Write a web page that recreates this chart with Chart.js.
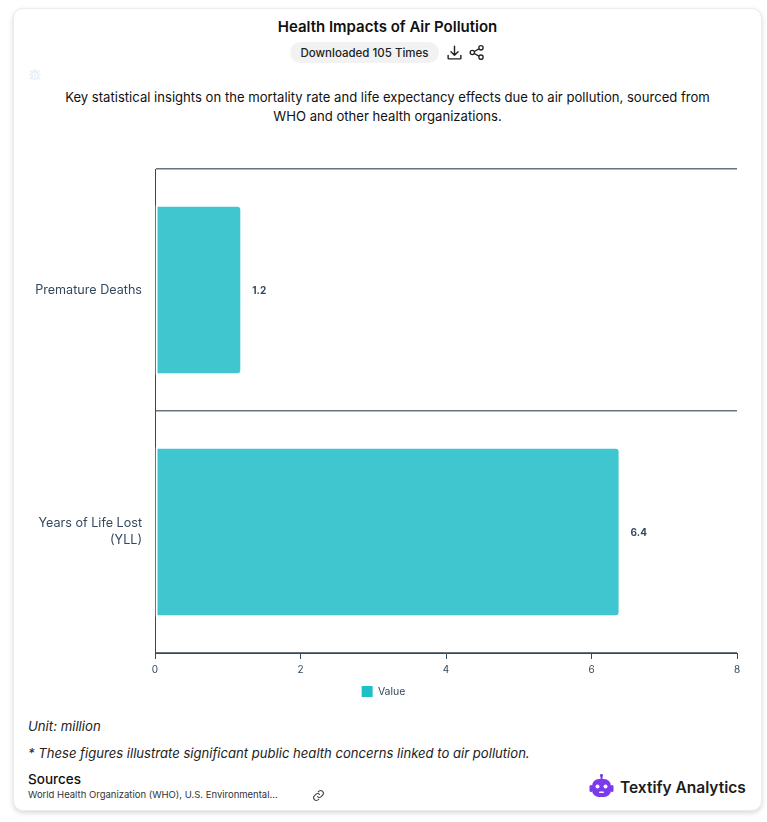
<!DOCTYPE html>
<html>
<head>
<meta charset="utf-8">
<title>Health Impacts of Air Pollution</title>
<script src="https://cdn.jsdelivr.net/npm/chart.js@4"></script>
<style>
  html, body { margin: 0; padding: 0; background: #fff; font-family: Inter, sans-serif; color: #111; }
  body { width: 767px; height: 822px; position: relative; overflow: hidden; }
  .card { position: absolute; left: 13px; top: 8px; width: 747px; height: 801px; border: 1px solid #ececec; border-radius: 10px; box-shadow: 0 2px 5px rgba(0,0,0,.16); background: #fff; }
  .txt { position: absolute; white-space: nowrap; line-height: 1; }
  .center { left: 13px; width: 749px; text-align: center; }
  #title { top: 19px; font-size: 15px; font-weight: 600; }
  #pill { left: 290px; top: 42px; width: 149px; height: 21px; background: #f2f2f2; border-radius: 11px; font-size: 11.5px; font-weight: 500; color: #222; text-align: center; line-height: 22px; position: absolute; }
  #desc1 { top: 91px; font-size: 13.1px; }
  #desc2 { top: 110px; font-size: 13.1px; }
  #unit { left: 28px; top: 720px; font-size: 13.2px; font-style: italic; color: #222; }
  #note { left: 28px; top: 747px; font-size: 13.1px; font-style: italic; color: #222; }
  #srcHead { left: 28px; top: 773px; font-size: 13.5px; font-weight: 500; }
  #srcText { left: 28px; top: 790px; font-size: 9.5px; color: #333; }
  #brand { left: 620px; top: 780px; font-size: 15.5px; font-weight: 600; color: #1c1c1c; }
  svg { position: absolute; }
  #wrap { position: absolute; left: 30px; top: 139px; width: 746px; height: 571px; }
</style>
</head>
<body>
<div class="card"></div>
<div class="txt center" id="title">Health Impacts of Air Pollution</div>
<div id="pill">Downloaded 105 Times</div>
<svg style="left:446px;top:44px" width="17" height="17" viewBox="0 0 24 24" fill="none" stroke="#222" stroke-width="2" stroke-linecap="round" stroke-linejoin="round"><path d="M12 3v13M7 11l5 5 5-5M3 16v4a1 1 0 0 0 1 1h16a1 1 0 0 0 1-1v-4"/></svg>
<svg style="left:469px;top:44px" width="16" height="17" viewBox="0 0 24 24" fill="none" stroke="#222" stroke-width="2"><circle cx="18" cy="5" r="3.2"/><circle cx="5" cy="12" r="3.2"/><circle cx="18" cy="19" r="3.2"/><path d="M8 10.5l7-4M8 13.5l7 4"/></svg>
<svg style="left:28px;top:67px" width="14" height="14" viewBox="0 0 24 24" fill="none" stroke="#e6eef6" stroke-width="2"><rect x="7" y="8" width="10" height="13" rx="4"/><path d="M9 8a3 3 0 0 1 6 0M12 8v13M2 13h5M17 13h5M3 6l4 4M21 6l-4 4M3 21l4-4M21 21l-4-4"/></svg>
<div class="txt center" id="desc1">Key statistical insights on the mortality rate and life expectancy effects due to air pollution, sourced from</div>
<div class="txt center" id="desc2">WHO and other health organizations.</div>
<div id="wrap"><canvas id="chart"></canvas></div>
<div class="txt" id="unit">Unit: million</div>
<div class="txt" id="note">* These figures illustrate significant public health concerns linked to air pollution.</div>
<div class="txt" id="srcHead">Sources</div>
<div class="txt" id="srcText">World Health Organization (WHO), U.S. Environmental...</div>
<svg style="left:312px;top:789px" width="13" height="13" viewBox="0 0 24 24" fill="none" stroke="#444" stroke-width="2" stroke-linecap="round"><path d="M10 14a5 5 0 0 0 7 0l3-3a5 5 0 0 0-7-7l-1.5 1.5"/><path d="M14 10a5 5 0 0 0-7 0l-3 3a5 5 0 0 0 7 7l1.5-1.5"/></svg>
<svg style="left:589px;top:774px" width="25" height="25" viewBox="0 0 25 25"><rect x="11.5" y="0" width="2" height="5" fill="#7c3aed"/><circle cx="12.5" cy="1.5" r="1.5" fill="#7c3aed"/><rect x="3" y="5" width="19" height="18" rx="7" fill="#7c3aed"/><rect x="0.5" y="11" width="3" height="7" rx="1.5" fill="#7c3aed"/><rect x="21.5" y="11" width="3" height="7" rx="1.5" fill="#7c3aed"/><circle cx="8.5" cy="12.5" r="2" fill="#fff"/><circle cx="16.5" cy="12.5" r="2" fill="#fff"/><rect x="10" y="17.5" width="5" height="1.6" rx=".8" fill="#fff"/></svg>
<div class="txt" id="brand">Textify Analytics</div>
<script>
const categories = ["Premature Deaths", ["Years of Life Lost", "(YLL)"]];
const seriesName = "Value";
const values = [1.2, 6.4];
const xTicks = [0, 2, 4, 6, 8];

const axisColor = "#34495e";
const barColor = "#40c6cf";

// waarde naast de balk zetten
const valueLabels = {
  id: "valueLabels",
  afterDatasetsDraw(chart) {
    const ctx = chart.ctx;
    ctx.save();
    ctx.font = "700 10px Inter";
    ctx.fillStyle = axisColor;
    ctx.textAlign = "left";
    ctx.textBaseline = "middle";
    chart.getDatasetMeta(0).data.forEach((bar, i) => {
      ctx.fillText(values[i], bar.x + 10, bar.y + 0.5);
    });
    ctx.restore();
  },
};

new Chart(document.getElementById("chart"), {
  type: "bar",
  data: {
    labels: categories,
    datasets: [{
      label: seriesName,
      data: values,
      backgroundColor: barColor,
      borderColor: "#fff",
      borderWidth: 2,
      borderSkipped: false,
      borderRadius: { topLeft: 1, bottomLeft: 1, topRight: 5, bottomRight: 5 },
      barPercentage: 0.705,
      categoryPercentage: 1,
    }],
  },
  options: {
    indexAxis: "y",
    responsive: true,
    maintainAspectRatio: false,
    animation: false,
    layout: { padding: { top: 8, right: 39, bottom: 3, left: 0 } },
    plugins: {
      tooltip: { enabled: false },
      legend: {
        position: "bottom",
        labels: { boxWidth: 11, boxHeight: 11, color: axisColor, padding: 5, font: { family: "Inter", size: 10.5 }, generateLabels: () => [{ text: seriesName, fillStyle: "#1fbfc9", strokeStyle: "#1fbfc9", lineWidth: 0, fontColor: axisColor }] },
      },
    },
    scales: {
      x: {
        min: 0,
        max: 8,
        afterBuildTicks(scale) { scale.ticks = xTicks.map(v => ({ value: v })); },
        grid: { drawOnChartArea: false, color: axisColor, tickLength: 6 },
        border: { color: axisColor, width: 1 },
        ticks: { color: axisColor, font: { family: "Inter", size: 10 }, padding: 5, maxRotation: 0 },
      },
      y: {
        afterFit(scale) { scale.width = 125; },
        grid: { color: "#66757f", lineWidth: 1.5, drawTicks: false },
        border: { color: axisColor, width: 1 },
        ticks: { color: axisColor, font: { family: "Inter", size: 12.6, lineHeight: 1.35 }, padding: 13 },
      },
    },
  },
  plugins: [valueLabels],
});
</script>
</body>
</html>
